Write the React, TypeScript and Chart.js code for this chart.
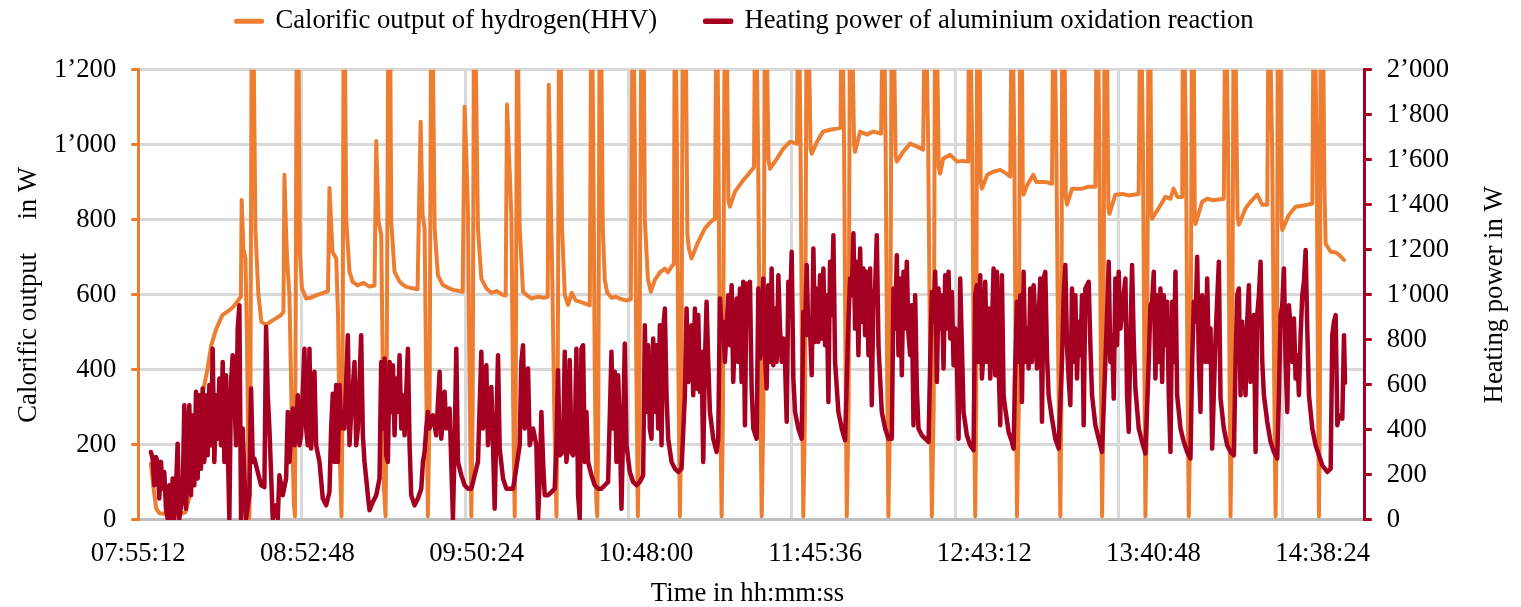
import { useEffect, useRef } from "react";
import { Chart, registerables } from "chart.js";

Chart.register(...registerables);

const FONT = "'Liberation Serif', 'Times New Roman', Times, serif";
const FONT_SIZE = 26.7;
const ORANGE = "#ED7D31";
const CRIMSON = "#A50021";
const GRID = "#D9D9D9";
const AXIS_GREY = "#BFBFBF";

const HYDROGEN_LABEL = "Calorific output of hydrogen(HHV)";
const HEATING_LABEL = "Heating power of aluminium oxidation reaction";
const LEFT_TITLE = "Calorific output     in W";
const RIGHT_TITLE = "Heating power in W";
const BOTTOM_TITLE = "Time in hh:mm:ss";

// Logging start 07:55:12; all times below are minutes after it.
const START_SECONDS = 7 * 3600 + 55 * 60 + 12;
const X_MAX = 417.5;
const labelMinutes = [0, 57.6, 115.2, 172.8, 230.4, 288, 345.6, 403.2];
const gridMinutes = [55.62, 111.24, 166.86, 222.48, 278.1, 333.72, 389.34];

// Calorific output of hydrogen (HHV), W
const hydrogenMinutes = [
  4.33, 5.11, 6.13, 7.16, 10.56, 13.97, 16.02, 17.38, 18.74, 20.11, 21.47, 22.49, 23.52, 24.88, 26.58, 28.63, 30.33, 31.69, 33.06, 34.42, 34.93,
  35.2, 35.78, 36.47, 36.98, 37.49, 37.83, 38.17, 38.68, 39.29, 39.87, 40.9, 41.92, 43.52, 45.33, 47.37, 48.73, 49.42,
  49.76, 50.34, 50.78, 51.46, 52.31, 52.99, 53.34, 53.51, 54.02, 54.53, 55.04, 55.72, 57.15, 58.96, 61.0, 63.05, 64.58,
  65.09, 66.12, 67.38, 67.99, 68.67, 69.18, 69.52, 69.97, 70.38, 70.78, 71.91, 72.93, 74.64, 76.68, 78.72, 80.43,
  81.01, 81.79, 82.71, 83.16, 83.67, 84.18, 84.52, 85.2, 85.78, 86.12, 87.24, 88.95, 90.99, 93.04, 95.08,
  96.11, 96.79, 97.47, 97.98, 98.59, 99.17, 99.75, 100.3, 100.88, 102.0, 103.6, 105.65, 107.69, 109.4, 110.42,
  111.1, 111.68, 112.23, 112.8, 113.38, 113.83, 114.34, 114.85, 115.63, 116.79, 118.5, 120.3, 122.01, 124.05, 125.07,
  125.52, 126.44, 127.02, 127.63, 128.14, 128.48, 128.99, 129.27, 129.84, 130.97, 132.13, 133.93, 135.98, 138.02, 139.39,
  139.73, 140.41, 140.85, 141.6, 142.35, 142.8, 143.31, 143.82, 144.26, 145.18, 146.31, 147.57, 148.93, 150.97, 152.68, 153.7,
  154.28, 154.89, 155.4, 155.92, 156.26, 156.6, 157.11, 157.62, 158.13, 158.81, 159.66, 161.2, 162.56, 163.92, 165.97, 167.67,
  168.36, 169.04, 169.55, 170.06, 170.57, 171.32, 172.1, 172.44, 173.47, 174.49, 175.85, 177.56, 179.26, 180.28, 181.99, 182.33,
  182.67, 183.35, 183.86, 184.37, 184.88, 185.4, 186.42, 186.93, 187.44, 188.36, 190.51, 192.89, 194.94, 196.3,
  196.88, 197.49, 198.0, 198.58, 199.03, 199.71, 200.39, 200.9, 201.41, 203.12, 205.5, 207.55, 209.59,
  210.1, 210.96, 211.64, 212.22, 212.83, 213.34, 214.02, 214.53, 215.04, 217.43, 219.48, 221.86, 224.25,
  224.69, 225.44, 225.95, 226.39, 226.97, 227.55, 228.34, 228.85, 229.26, 231.06, 233.11, 235.49, 237.88, 239.07,
  239.48, 240.26, 240.78, 241.18, 241.8, 242.31, 243.16, 243.67, 244.01, 245.72, 248.1, 250.15, 252.87,
  253.66, 254.41, 254.92, 255.36, 255.94, 256.52, 257.3, 257.82, 258.22, 260.37, 262.76, 265.14, 267.19,
  267.87, 268.89, 269.57, 270.15, 270.77, 271.28, 271.96, 272.47, 272.98, 274.0, 276.39, 278.77, 280.48, 282.52,
  282.86, 283.89, 284.4, 284.91, 285.25, 285.59, 286.44, 286.78, 287.19, 289.0, 291.04, 293.43, 295.13, 296.84,
  297.42, 298.2, 298.71, 299.12, 299.73, 300.24, 300.82, 301.1, 301.37, 302.63, 304.68, 305.7, 308.76, 311.05,
  311.59, 312.51, 313.2, 313.88, 314.22, 314.56, 315.34, 315.75, 316.16, 317.86, 321.27, 323.42, 325.8,
  326.38, 327.17, 327.68, 328.09, 328.53, 328.97, 329.79, 330.24, 330.58, 332.62, 335.01, 337.05, 340.56,
  341.14, 341.99, 342.5, 342.84, 343.36, 343.97, 344.55, 344.89, 345.13, 347.28, 349.66, 351.36, 352.39, 353.75, 355.35,
  355.69, 356.65, 357.16, 357.6, 358.18, 358.76, 359.31, 359.65, 359.88, 362.17, 363.87, 366.02, 369.53,
  370.11, 370.96, 371.47, 371.81, 372.32, 372.94, 373.52, 374.2, 374.64, 376.92, 378.63, 380.91, 382.62, 384.32,
  384.87, 385.96, 386.64, 387.15, 387.59, 387.93, 388.85, 389.19, 389.43, 391.68, 393.96, 396.69, 399.66,
  400.2, 401.12, 401.57, 401.91, 402.25, 402.49, 403.4, 403.75, 404.19, 405.89, 407.6, 408.72, 410.43,
];
const hydrogenWatts = [
  150, 90, 30, 18, 15, 14, 20, 60, 130, 220, 310, 360, 400, 467, 510, 546, 555, 563, 575, 590, 595,
  853, 723, 697, 500, 150, 5, 300, 1500, 1250, 777, 600, 528, 520, 530, 540, 547, 555,
  920, 760, 680, 600, 250, 40, 10, 400, 1500, 1250, 707, 617, 590, 593, 600, 605, 610,
  885, 715, 697, 550, 150, 10, 300, 1500, 1250, 803, 661, 635, 625, 632, 622, 625,
  1010, 795, 760, 450, 80, 10, 300, 1500, 1250, 795, 661, 635, 622, 618, 615,
  1061, 813, 777, 400, 10, 300, 1500, 1250, 777, 652, 627, 618, 612, 610, 608,
  1101, 973, 821, 350, 10, 300, 1500, 1250, 777, 643, 617, 605, 610, 600, 598,
  1107, 928, 803, 300, 10, 300, 1500, 1250, 777, 608, 600, 590, 595, 592, 595,
  1160, 867, 688, 300, 10, 400, 1500, 1250, 777, 600, 573, 605, 585, 580, 575, 572,
  1500, 1000, 400, 50, 10, 300, 1500, 1250, 777, 640, 605, 592, 595, 590, 585, 588,
  1500, 1000, 400, 10, 300, 1500, 1250, 800, 643, 608, 640, 660, 670, 660, 680, 682,
  1500, 1000, 400, 10, 300, 1500, 1250, 760, 723, 697, 740, 777, 795, 803,
  1500, 1000, 400, 10, 300, 1500, 1250, 850, 835, 875, 901, 920, 940,
  1500, 1000, 400, 10, 300, 1500, 1250, 960, 936, 963, 989, 1008, 1003,
  1500, 1000, 400, 10, 300, 1500, 1250, 990, 976, 1008, 1035, 1040, 1043, 1045,
  1500, 1000, 400, 10, 300, 1500, 1250, 1000, 981, 1035, 1027, 1035, 1030,
  1500, 1000, 400, 10, 300, 1500, 1250, 970, 955, 981, 1003, 995, 987,
  1500, 1000, 400, 10, 300, 1500, 1250, 940, 923, 963, 973, 955, 957, 955,
  1500, 1000, 400, 10, 300, 1500, 1250, 900, 883, 920, 928, 933, 925, 915,
  1500, 1000, 400, 10, 300, 1500, 1250, 880, 867, 893, 920, 901, 901, 896,
  1500, 1000, 400, 10, 300, 1500, 1250, 860, 840, 883, 883, 888, 888,
  1500, 1000, 400, 10, 300, 1500, 1250, 830, 816, 867, 869, 865, 869,
  1500, 1000, 400, 10, 300, 1500, 1250, 820, 803, 830, 861, 856, 883, 861, 861,
  1500, 1000, 400, 10, 300, 1500, 1250, 810, 789, 848, 856, 852, 856,
  1500, 1000, 400, 10, 300, 1500, 1250, 810, 787, 830, 848, 867, 840, 840,
  1500, 1000, 400, 10, 300, 1500, 1250, 790, 773, 813, 835, 838, 843,
  1500, 1000, 400, 10, 300, 1500, 1250, 900, 736, 715, 713, 707, 693,
];

// Heating power of the aluminium oxidation reaction, W
const heatingMinutes = [
  4.32, 4.89, 5.45, 6.02, 6.59, 7.16, 7.73, 8.29, 8.86, 9.43, 10.0, 10.56, 11.13, 11.7, 12.27, 12.84, 13.4, 13.97, 15.11, 15.68,
  16.25, 16.81, 17.38, 17.95, 18.52, 19.08, 19.65, 20.22, 20.79, 21.36, 21.92, 22.49, 23.06, 23.63, 24.2, 24.76, 25.33, 25.9, 26.47, 27.04,
  27.6, 28.17, 28.74, 29.31, 29.88, 30.44, 31.01, 31.58, 32.15, 32.72, 33.28, 33.85, 34.42, 34.99, 35.56, 36.69, 37.83, 38.4, 38.97, 39.53,
  40.67, 41.81, 42.94, 43.51, 44.08, 44.64, 45.78, 46.92, 47.49, 48.05, 49.19, 50.33, 50.9, 51.46, 52.6, 53.17, 53.73, 54.3, 54.87, 55.44,
  56.57, 57.14, 57.71, 58.28, 58.85, 59.98, 60.55, 61.69, 62.82, 63.96, 65.09, 65.66, 66.23, 66.8, 67.36, 67.93,
  68.5, 69.07, 69.64, 70.2, 71.34, 71.91, 72.48, 73.61, 74.18, 74.75, 75.88, 76.45, 77.02, 78.16, 78.72, 79.86, 81.0, 82.13, 82.7, 83.27,
  83.84, 84.4, 84.97, 85.54, 86.11, 86.68, 87.24, 87.81, 88.38, 88.95, 89.52, 90.08, 90.65, 91.79, 92.36, 92.92, 94.06, 95.2, 96.33, 96.9,
  97.47, 98.04, 98.6, 99.17, 100.31, 101.44, 102.58, 103.15, 104.28, 104.85, 105.99, 107.12, 107.69, 108.26, 108.83, 109.96, 111.1, 112.24, 113.37, 114.51,
  115.64, 116.78, 117.35, 117.92, 118.48, 119.05, 119.62, 120.19, 120.76, 121.32, 121.89, 122.46, 123.03, 124.16, 125.3, 126.44, 127.57, 128.14, 129.84, 130.41,
  130.98, 131.55, 132.68, 133.25, 134.39, 135.52, 136.09, 136.66, 137.23, 137.8,
  138.36, 139.5, 140.63, 141.77, 142.34, 142.9, 143.47, 144.61, 145.18, 145.74, 146.31, 146.88, 147.45, 148.02, 148.58, 149.15, 149.72, 150.29, 150.86, 151.42,
  151.99, 152.56, 153.13, 154.26, 155.4, 156.54, 157.67, 158.81, 159.94, 161.08, 161.65, 162.22, 162.78, 163.35, 163.92, 164.49, 165.06, 165.62, 166.19, 167.33,
  168.46, 169.6, 170.74, 171.87, 172.44, 173.01, 173.58, 174.14, 174.71, 175.28, 175.85, 176.42, 176.98, 177.55, 178.12, 178.69, 179.26, 179.82, 180.39, 181.53,
  182.66, 183.8, 184.94, 186.07, 186.64, 187.21, 187.78, 188.34, 188.91, 189.48, 190.05, 190.62, 191.18, 191.75, 192.32, 192.89, 193.46, 194.02, 194.59, 195.73,
  196.86, 197.43, 198.0, 198.57, 199.14, 199.7, 200.27, 200.84, 201.41, 201.98, 202.54, 203.11, 203.68, 204.25, 204.82, 205.38, 205.95, 206.52, 207.09, 207.66, 208.22,
  208.8, 209.37, 210.5, 211.07, 211.64, 212.21, 212.77, 213.34, 213.91, 214.48, 215.05, 215.61, 216.18, 216.75, 217.32, 217.89, 218.45, 219.02, 219.59, 220.16,
  220.73, 221.29, 221.86, 222.43, 223.0, 223.57, 224.7, 225.84, 226.41, 226.97, 227.54, 228.11, 228.68, 229.25, 229.81, 230.38, 230.95, 231.52, 232.09, 232.65,
  233.22, 233.79, 234.36, 234.93, 235.49, 236.06, 236.63, 237.2, 238.33, 239.47, 240.61, 241.74, 242.31, 242.88, 243.45, 244.02, 244.58, 245.15, 245.72, 246.29,
  246.86, 247.42, 247.99, 248.56, 249.13, 249.69, 250.26, 250.83, 251.4, 251.97, 253.1, 254.24, 255.38, 256.51, 257.08, 257.65, 258.22, 258.78, 259.35, 259.92,
  260.49, 261.06, 261.62, 262.19, 262.76, 263.33, 263.9, 264.46, 265.03, 265.6, 266.74, 267.87, 269.01, 269.58, 270.14, 270.71, 271.28, 271.85, 272.42, 272.98,
  273.55, 274.12, 274.69, 275.26, 275.82, 276.39, 276.96, 277.53,
  278.09, 278.66, 279.23, 279.79, 280.36, 280.93, 282.07, 283.2, 284.34, 284.91, 285.47, 286.04, 286.61, 287.18, 287.75, 288.31, 288.88, 289.45, 290.02, 290.59,
  291.15, 291.72, 292.29, 292.86, 293.43, 293.99, 294.56, 295.13, 296.27, 297.4, 297.97, 298.54, 299.11, 299.67, 300.24, 300.81, 301.38, 301.95, 302.51, 303.08,
  303.65, 304.22, 304.79, 305.35, 305.92, 306.49, 307.06, 307.63, 308.19, 308.76, 309.33, 309.9, 311.03, 312.17, 313.31, 314.44, 315.01, 315.58, 316.15, 316.71,
  317.28, 317.85, 318.42, 318.99, 319.55, 320.12, 320.69, 321.26, 321.83, 322.39, 323.53, 324.1, 324.67, 325.8, 326.94, 328.07, 329.21, 329.78, 330.35, 330.91,
  331.48, 332.05, 332.62, 333.19, 333.75, 334.32, 334.89, 335.46, 336.03, 336.59, 337.16, 337.73, 338.3, 338.87, 339.43, 340.57, 341.71, 342.84, 343.98, 344.55,
  345.11, 345.68, 346.25, 346.82, 347.39,
  347.96, 348.53, 349.1, 349.66, 350.23, 350.8, 351.37, 351.94, 352.5, 353.07, 353.64, 354.78, 355.91, 357.05, 358.18, 358.75, 359.32, 359.89, 360.46, 361.02,
  361.59, 362.16, 362.73, 363.3, 363.86, 364.43, 365.0, 365.57, 366.7, 367.84, 368.41, 369.54, 370.68, 371.82, 372.95, 373.52, 374.09, 374.66, 375.22, 375.79,
  376.93, 377.5, 378.06, 378.63, 379.2, 379.77, 380.34, 380.9, 381.47, 382.04, 382.61, 383.18, 384.31, 385.45, 386.58, 387.72, 388.29, 388.86, 389.42, 389.99,
  390.56, 391.13, 391.7, 392.26, 392.83, 393.4, 393.97, 394.54, 395.1, 395.67, 396.24, 396.81, 397.38, 397.94, 398.51, 399.65, 400.78, 401.92, 403.06, 404.76,
  405.9, 406.46, 407.03, 407.6, 408.17, 408.74, 409.87, 410.44, 410.78,
];
const heatingWatts = [
  302, 273, 154, 280, 258, 95, 258, 139, 213, 50, 6, 154, 6, 184, 6, 139, 339, 6, 110, 510,
  50, 317, 510, 110, 465, 154, 569, 184, 554, 228, 584, 258, 554, 287, 599, 332, 761, 258, 554, 361,
  628, 332, 702, 258, 643, 332, 6, 613, 732, 554, 332, 850, 954, 6, 406, 6, 110, 584, 258, 273,
  213, 154, 146, 858, 554, 406, 6, 65, 6, 199, 110, 184, 480, 258, 495, 332, 406, 554, 332, 376,
  761, 406, 332, 761, 317, 658, 332, 258, 95, 65, 124, 406, 561, 258, 599, 258,
  599, 406, 480, 406, 821, 332, 480, 702, 332, 406, 821, 376, 258, 110, 43, 80, 110, 184, 702, 406,
  717, 287, 258, 702, 480, 687, 376, 628, 480, 732, 406, 554, 376, 761, 332, 110, 65, 95, 139, 258,
  302, 406, 480, 406, 465, 376, 658, 361, 569, 406, 495, 6, 332, 761, 258, 199, 154, 139, 139, 199,
  258, 747, 406, 554, 687, 332, 480, 591, 332, 50, 406, 732, 317, 184, 139, 139, 139, 184, 332, 702,
  776, 406, 673, 332, 406, 332, 6, 184, 480, 258,
  110, 110, 124, 139, 332, 665, 287, 302, 747, 258, 332, 710, 302, 287, 347, 761, 110, 6, 761, 776,
  258, 480, 258, 199, 154, 139, 139, 154, 169, 747, 406, 658, 258, 643, 406, 50, 406, 784, 332, 213,
  169, 154, 169, 199, 865, 480, 776, 406, 361, 806, 480, 776, 406, 865, 332, 850, 939, 554, 361, 258,
  228, 213, 228, 554, 939, 613, 702, 865, 554, 939, 584, 910, 569, 747, 258, 702, 969, 702, 480, 361,
  302, 361, 984, 850, 880, 702, 850, 998, 776, 1043, 613, 850, 984, 702, 1028, 613, 1058, 421, 1050, 998, 1058,
  584, 406, 361, 1028, 717, 791, 1073, 732, 584, 1043, 702, 1117, 687, 939, 702, 1087, 850, 702, 806, 702,
  436, 1058, 910, 1191, 628, 480, 406, 361, 925, 821, 1132, 821, 850, 643, 1206, 791, 1028, 791, 1087, 806,
  1117, 776, 998, 524, 1147, 910, 1265, 702, 480, 406, 354, 880, 1073, 998, 1273, 850, 1147, 732, 1206, 880,
  1117, 821, 1102, 732, 1117, 510, 998, 1028, 1265, 776, 480, 406, 361, 361, 1028, 850, 1176, 732, 1073, 643,
  1102, 850, 1147, 821, 732, 954, 421, 998, 584, 406, 376, 361, 347, 702, 1013, 880, 1102, 613, 1028, 850,
  998, 673, 1087, 850, 1102, 806, 1013, 687,
  850, 702, 361, 1073, 776, 480, 376, 332, 310, 998, 1043, 702, 1087, 628, 747, 1058, 702, 939, 628, 850,
  1117, 643, 1102, 702, 421, 1087, 554, 495, 391, 347, 317, 702, 969, 702, 998, 524, 1102, 702, 850, 673,
  1028, 702, 1043, 895, 673, 895, 1073, 436, 1073, 1102, 732, 554, 450, 361, 317, 702, 998, 1132, 776, 628,
  510, 1028, 702, 998, 628, 880, 732, 998, 421, 1028, 1058, 776, 554, 421, 361, 302, 702, 910, 1147, 702,
  821, 539, 1073, 776, 1102, 850, 910, 998, 1073, 554, 391, 806, 1132, 791, 584, 406, 347, 295, 702, 954,
  969, 1102, 628, 998, 702,
  1028, 613, 998, 776, 969, 554, 302, 969, 702, 1102, 554, 406, 347, 302, 273, 702, 969, 880, 1169, 702,
  480, 998, 776, 702, 1073, 702, 850, 317, 806, 1147, 539, 406, 332, 302, 287, 702, 998, 1028, 554, 880,
  554, 880, 1043, 613, 732, 910, 302, 910, 998, 1147, 702, 554, 436, 347, 302, 273, 554, 910, 954, 1117,
  702, 480, 954, 850, 702, 895, 628, 732, 554, 821, 998, 1058, 1199, 850, 554, 406, 332, 287, 243, 213,
  228, 821, 880, 910, 421, 465, 450, 821, 610,
];

const clock = (minutes: number) => {
  const total = Math.round(START_SECONDS + minutes * 60);
  const hh = Math.floor(total / 3600);
  const mm = Math.floor((total % 3600) / 60);
  const ss = total % 60;
  const p = (n: number) => String(n).padStart(2, "0");
  return `${p(hh)}:${p(mm)}:${p(ss)}`;
};

const watts = (v: number) =>
  v >= 1000 ? `${Math.floor(v / 1000)}\u2019${String(v % 1000).padStart(3, "0")}` : String(v);

const font = { family: FONT, size: FONT_SIZE };

// Axis titles, painted around the plot area.
const axisTitlesPlugin = {
  id: "axisTitles",
  afterDraw(chart: any) {
    const { ctx, chartArea: a } = chart;
    const midY = (a.top + a.bottom) / 2;
    ctx.save();
    ctx.font = `${FONT_SIZE}px ${FONT}`;
    ctx.fillStyle = "#000";
    ctx.textAlign = "center";
    ctx.textBaseline = "middle";
    ctx.fillText(BOTTOM_TITLE, (a.left + a.right) / 2 - 4, a.bottom + 74);
    const vertical = (text: string, x: number) => {
      ctx.save();
      ctx.translate(x, midY);
      ctx.rotate(-Math.PI / 2);
      ctx.fillText(text, 0, 0);
      ctx.restore();
    };
    vertical(LEFT_TITLE, a.left - 109);
    vertical(RIGHT_TITLE, a.right + 130);
    ctx.restore();
  },
};

export default function App() {
  const canvasRef = useRef<HTMLCanvasElement | null>(null);

  useEffect(() => {
    const canvas = canvasRef.current;
    if (!canvas) return;

    const chart = new Chart(canvas, {
      type: "line",
      data: {
        datasets: [
          {
            label: HYDROGEN_LABEL,
            data: hydrogenMinutes.map((x, i) => ({ x, y: hydrogenWatts[i] })),
            borderColor: ORANGE,
            backgroundColor: ORANGE,
            borderWidth: 4,
            pointRadius: 0,
            tension: 0,
            borderJoinStyle: "round",
            borderCapStyle: "round",
            yAxisID: "y",
            order: 1,
          },
          {
            label: HEATING_LABEL,
            data: heatingMinutes.map((x, i) => ({ x, y: heatingWatts[i] })),
            borderColor: CRIMSON,
            backgroundColor: CRIMSON,
            borderWidth: 4.5,
            pointRadius: 0,
            tension: 0,
            borderJoinStyle: "round",
            borderCapStyle: "round",
            yAxisID: "y2",
            order: 0,
          },
        ],
      },
      options: {
        animation: false,
        responsive: true,
        maintainAspectRatio: false,
        layout: { padding: { left: 39, right: 57, top: 0, bottom: 19 } },
        plugins: {
          legend: {
            position: "top",
            labels: {
              font,
              color: "#000",
              boxWidth: 26,
              boxHeight: 1,
              padding: 8,
              sort: (a: any, b: any) => a.datasetIndex - b.datasetIndex,
              generateLabels: (c: any) =>
                Chart.defaults.plugins.legend.labels.generateLabels(c).map((item: any) => ({
                  ...item,
                  text: item.text + "\u00a0".repeat(item.datasetIndex === 0 ? 6 : 2),
                })),
            },
          },
          tooltip: { enabled: false },
        },
        scales: {
          gap: {
            type: "linear",
            position: "top",
            min: 0,
            max: X_MAX,
            ticks: { display: false },
            grid: { display: false, drawTicks: false },
            border: { display: false },
            afterFit: (s: any) => {
              s.height = 25;
            },
          },
          xg: {
            type: "linear",
            position: "bottom",
            min: 0,
            max: X_MAX,
            afterBuildTicks: (s: any) => {
              s.ticks = gridMinutes.map((value) => ({ value }));
            },
            ticks: { display: false },
            grid: { color: GRID, lineWidth: 3, drawTicks: false },
            border: { display: false },
          },
          x: {
            type: "linear",
            position: "bottom",
            min: 0,
            max: X_MAX,
            afterBuildTicks: (s: any) => {
              s.ticks = labelMinutes.map((value) => ({ value }));
            },
            ticks: {
              font,
              color: "#000",
              maxRotation: 0,
              autoSkip: false,
              padding: 18,
              callback: (v: any) => clock(Number(v)),
            },
            grid: { display: false, drawTicks: false },
            border: { color: AXIS_GREY, width: 3 },
          },
          y: {
            type: "linear",
            position: "left",
            min: 0,
            max: 1200,
            ticks: { stepSize: 200, font, color: "#000", padding: 15, callback: (v: any) => watts(Number(v)) },
            grid: { color: GRID, lineWidth: 3, tickColor: ORANGE, tickLength: 7 },
            border: { color: ORANGE, width: 3 },
          },
          y2: {
            type: "linear",
            position: "right",
            min: 0,
            max: 2000,
            ticks: { stepSize: 200, font, color: "#000", padding: 15, callback: (v: any) => watts(Number(v)) },
            grid: { drawOnChartArea: false, color: CRIMSON, lineWidth: 3, tickColor: CRIMSON, tickLength: 7 },
            border: { color: CRIMSON, width: 3 },
          },
        },
      },
      plugins: [axisTitlesPlugin],
    } as any);

    return () => chart.destroy();
  }, []);

  return (
    <div style={{ position: "fixed", left: 0, top: 0, width: "100vw", height: "100vh", background: "#fff" }}>
      <canvas ref={canvasRef} />
    </div>
  );
}
